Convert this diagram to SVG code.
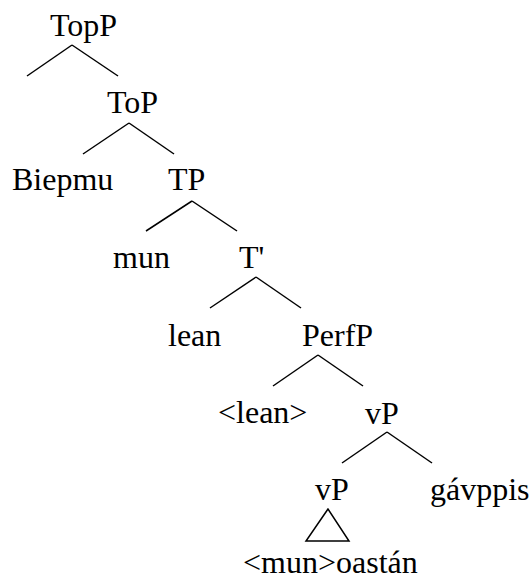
<svg xmlns="http://www.w3.org/2000/svg" width="529" height="580" viewBox="0 0 529 580">
<style>
text{font-family:"Liberation Serif","Times New Roman",serif;font-size:32px;fill:#000}
.e line,.e polygon{stroke:#000;stroke-width:1.5;fill:none}
</style>
<rect width="529" height="580" fill="#fff"/>
<g class="e" id="connectors">
<line x1="72" y1="45" x2="27" y2="76"/><line x1="72" y1="45" x2="118" y2="76"/>
<line x1="129" y1="123" x2="83" y2="154"/><line x1="129" y1="123" x2="174" y2="154"/>
<line x1="192" y1="201" x2="146" y2="231"/><line x1="192" y1="201" x2="237" y2="231"/>
<line x1="256" y1="277" x2="210" y2="308"/><line x1="256" y1="277" x2="301" y2="308"/>
<line x1="318" y1="355" x2="273" y2="386"/><line x1="318" y1="355" x2="363" y2="386"/>
<line x1="387" y1="432" x2="342" y2="463"/><line x1="387" y1="432" x2="432" y2="463"/>
<polygon points="328,509 306,541 349,541"/>
</g>
<g id="n-topp"><text x="50" y="36">TopP</text></g>
<g id="n-top"><text x="107" y="113">ToP</text></g>
<g id="n-biepmu"><text x="12" y="190">Biepmu</text></g>
<g id="n-tp"><text x="168" y="190">TP</text></g>
<g id="n-mun"><text x="113" y="268">mun</text></g>
<g id="n-tbar"><text x="239" y="268">T'</text></g>
<g id="n-lean"><text x="168" y="346">lean</text></g>
<g id="n-perfp"><text x="302" y="346">PerfP</text></g>
<g id="n-lean2"><text x="218" y="423">&lt;lean&gt;</text></g>
<g id="n-vp1"><text x="365" y="424">vP</text></g>
<g id="n-vp2"><text x="315" y="500">vP</text></g>
<g id="n-gavppis"><text x="430" y="500">gávppis</text></g>
<g id="n-oastan"><text x="243" y="573">&lt;mun&gt;oastán</text></g>
</svg>
